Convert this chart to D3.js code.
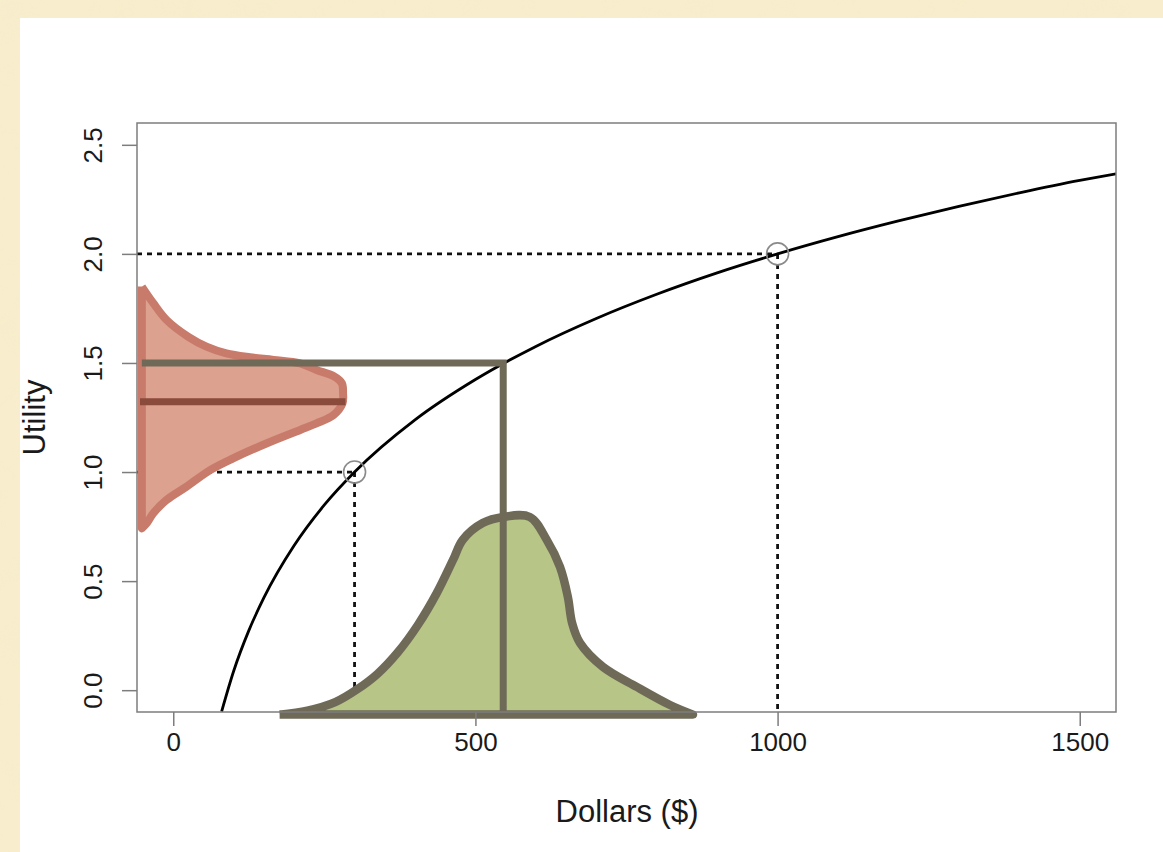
<!DOCTYPE html>
<html>
<head>
<meta charset="utf-8">
<script src="https://cdn.jsdelivr.net/npm/d3@7"></script>
<style>
  html, body { margin: 0; padding: 0; background: #f7edcb; }
  svg { display: block; }
  text { font-family: "Liberation Sans", Arial, Helvetica, sans-serif; fill: #1a1a1a; }
</style>
</head>
<body>
<svg id="chart" width="1163" height="852"></svg>
<script>
// Axis ticks
const xTicks = [0, 500, 1000, 1500];
const yTicks = [0, 0.5, 1, 1.5, 2, 2.5];
const yTickLabels = ["0.0", "0.5", "1.0", "1.5", "2.0", "2.5"];

// Utility curve: dollars -> utility
const curveDollars = [80, 100, 125, 150, 200, 250, 300, 400, 500, 600, 700, 800, 900, 1000, 1100, 1200, 1300, 1400, 1500, 1560];
const curveUtility = [-0.098, 0.088, 0.273, 0.424, 0.663, 0.849, 1.0, 1.239, 1.424, 1.576, 1.704, 1.815, 1.913, 2.0, 2.079, 2.151, 2.218, 2.280, 2.337, 2.367];

// Reference points on the curve (dotted guides + open circles)
const refDollars = [300, 1000];
const refUtility = [1.0, 2.0];

// Distribution of utility (drawn sideways along the left edge)
const utilBase = -52;
const utilDensityU = [1.850, 1.774, 1.697, 1.620, 1.575, 1.544, 1.526, 1.514, 1.498, 1.468, 1.440, 1.407, 1.361, 1.315, 1.261, 1.223, 1.193, 1.132, 1.063, 1.009, 0.933, 0.872, 0.811, 0.765, 0.742];
const utilDensityD = [-52, -33, -11, 25, 55, 88, 127, 166, 210, 237, 265, 279, 281, 280, 265, 237, 210, 155, 99, 61, 22, -11, -33, -44, -52];
const meanUtility = 1.322;
const meanUtilityReach = 285;

// Distribution of dollars (drawn along the bottom)
const dollarBase = -0.112;
const dollarDensityD = [176, 222, 268, 305, 338, 372, 405, 436, 463, 479, 512, 546, 590, 618, 640, 653, 660, 673, 711, 767, 822, 860];
const dollarDensityU = [-0.112, -0.094, -0.055, 0.005, 0.075, 0.175, 0.300, 0.445, 0.597, 0.689, 0.766, 0.794, 0.794, 0.689, 0.565, 0.427, 0.308, 0.217, 0.107, 0.015, -0.068, -0.112];

// Certainty equivalent: utility of expected value
const ceDollars = 546;
const ceUtility = 1.5;
const ceLeft = -52;

const svg = d3.select("#chart");
const W = 1163, H = 852;

// Parchment background with a mottled texture, white panel on top
const defs = svg.append("defs");
const f = defs.append("filter").attr("id", "parch").attr("x", 0).attr("y", 0).attr("width", "100%").attr("height", "100%");
f.append("feTurbulence").attr("type", "fractalNoise").attr("baseFrequency", 0.035).attr("numOctaves", 3).attr("seed", 4).attr("result", "n");
f.append("feColorMatrix").attr("in", "n").attr("type", "matrix")
  .attr("values", "0 0 0 0 0.90  0 0 0 0 0.82  0 0 0 0 0.58  0 0 0 -1.4 0.75");
svg.append("rect").attr("width", W).attr("height", H).attr("fill", "#f8eecd");
svg.append("rect").attr("width", W).attr("height", H).attr("filter", "url(#parch)").attr("opacity", 0.35);
svg.append("rect").attr("x", 20).attr("y", 18).attr("width", W - 20).attr("height", H - 18).attr("fill", "#ffffff");

// Plot region
const box = { left: 137, right: 1116, top: 123, bottom: 712 };
const x = d3.scaleLinear().domain([-60, 1560]).range([box.left, box.right]);
const y = d3.scaleLinear().domain([-0.1, 2.6]).range([box.bottom, box.top]);

defs.append("clipPath").attr("id", "plotclip")
  .append("rect").attr("x", box.left).attr("y", box.top)
  .attr("width", box.right - box.left).attr("height", box.bottom - box.top);

const boxColor = "#7d7d7d";

// Dotted guides from reference points to the axes
const guides = svg.append("g").attr("stroke", "#111").attr("stroke-width", 2.8)
  .attr("stroke-dasharray", "5,5").attr("fill", "none");
refDollars.forEach((d, i) => {
  guides.append("line").attr("x1", box.left).attr("x2", x(d))
    .attr("y1", y(refUtility[i])).attr("y2", y(refUtility[i]));
  guides.append("line").attr("x1", x(d)).attr("x2", x(d))
    .attr("y1", y(refUtility[i])).attr("y2", box.bottom);
});

// Utility distribution (sideways density)
const utilPts = utilDensityU.map((u, i) => [x(utilDensityD[i]), y(u)]);
const utilLine = d3.line().curve(d3.curveCatmullRom.alpha(0.5));
const utilTail = `L${x(utilBase)},${y(utilDensityU[utilDensityU.length - 1])}L${x(utilBase)},${y(utilDensityU[0])}`;
svg.append("path").attr("d", utilLine(utilPts) + utilTail + "Z").attr("fill", "#dca18f").attr("stroke", "none");
svg.append("path")
  .attr("d", utilLine(utilPts) + utilTail)
  .attr("fill", "none").attr("stroke", "#c87b6a").attr("stroke-width", 8)
  .attr("stroke-linejoin", "round").attr("stroke-linecap", "butt");

// Mean utility line
svg.append("line")
  .attr("x1", x(-55)).attr("x2", x(meanUtilityReach))
  .attr("y1", y(meanUtility)).attr("y2", y(meanUtility))
  .attr("stroke", "#8a4a3c").attr("stroke-width", 7);

// Dollar distribution (density along the bottom)
const dolPts = dollarDensityD.map((d, i) => [x(d), y(dollarDensityU[i])]);
const dolLine = d3.line().curve(d3.curveCatmullRom.alpha(0.5));
const dolOutline = dolLine(dolPts) + `L${x(dollarDensityD[0])},${y(dollarBase)}`;
svg.append("path").attr("d", dolOutline + "Z").attr("fill", "#b7c687").attr("stroke", "none");

// Utility curve
svg.append("path")
  .datum(curveDollars.map((d, i) => [x(d), y(curveUtility[i])]))
  .attr("d", d3.line().curve(d3.curveMonotoneX))
  .attr("clip-path", "url(#plotclip)")
  .attr("fill", "none").attr("stroke", "#000").attr("stroke-width", 2.8);

// Certainty-equivalent lines
svg.append("path")
  .attr("d", `M${x(ceLeft)},${y(ceUtility)}L${x(ceDollars)},${y(ceUtility)}L${x(ceDollars)},${y(-0.098)}`)
  .attr("fill", "none").attr("stroke", "#6f6a58").attr("stroke-width", 7)
  .attr("stroke-linejoin", "miter").attr("stroke-linecap", "butt");

svg.append("path").attr("d", dolOutline)
  .attr("fill", "none").attr("stroke", "#6f6a58").attr("stroke-width", 8.5)
  .attr("stroke-linejoin", "round").attr("stroke-linecap", "butt");

// Open circles at the reference points
svg.append("g").selectAll("circle").data(refDollars).join("circle")
  .attr("cx", d => x(d)).attr("cy", (d, i) => y(refUtility[i])).attr("r", 11)
  .attr("fill", "none").attr("stroke", "#8a8a8a").attr("stroke-width", 1.6);

// Frame
svg.append("rect").attr("x", box.left).attr("y", box.top)
  .attr("width", box.right - box.left).attr("height", box.bottom - box.top)
  .attr("fill", "none").attr("stroke", boxColor).attr("stroke-width", 1.5);

// Bottom axis
const xAxis = svg.append("g").attr("transform", `translate(0,${box.bottom})`)
  .call(d3.axisBottom(x).tickValues(xTicks).tickSize(14).tickPadding(7).tickFormat(d3.format("d")));
xAxis.select(".domain").remove();
xAxis.selectAll(".tick line").attr("stroke", boxColor).attr("stroke-width", 1.5);
xAxis.selectAll(".tick text").attr("font-size", 26).attr("fill", "#1a1a1a")
  .attr("font-family", "Liberation Sans, Arial, sans-serif");

// Left axis
const yAxis = svg.append("g").attr("transform", `translate(${box.left},0)`)
  .call(d3.axisLeft(y).tickValues(yTicks).tickSize(15).tickFormat((d, i) => yTickLabels[i]));
yAxis.select(".domain").remove();
yAxis.selectAll(".tick line").attr("stroke", boxColor).attr("stroke-width", 1.5);
yAxis.selectAll(".tick text")
  .attr("x", 0).attr("dy", null)
  .attr("transform", "translate(-35,0) rotate(-90)")
  .attr("text-anchor", "middle").attr("font-size", 26).attr("fill", "#1a1a1a")
  .attr("font-family", "Liberation Sans, Arial, sans-serif");

// Axis titles
svg.append("text").attr("x", 627).attr("y", 822).attr("text-anchor", "middle")
  .attr("font-size", 31).text("Dollars ($)");
svg.append("text").attr("transform", `translate(45,${(box.top + box.bottom) / 2}) rotate(-90)`)
  .attr("text-anchor", "middle").attr("font-size", 31).text("Utility");
</script>
</body>
</html>
